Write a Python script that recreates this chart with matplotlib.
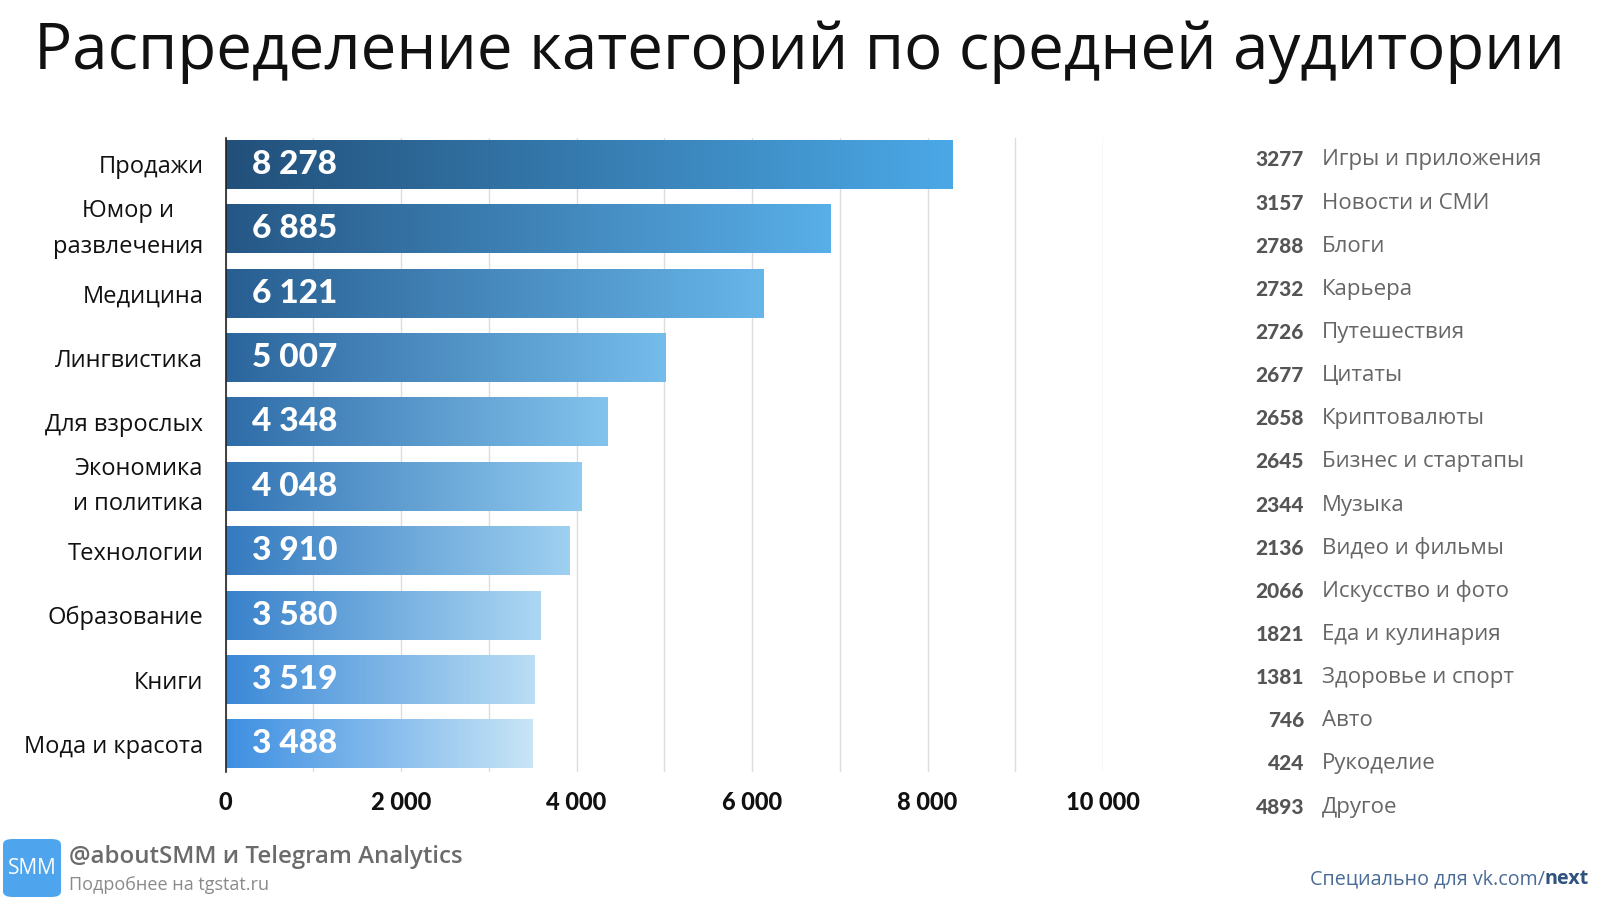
import matplotlib
matplotlib.use("Agg")
import matplotlib.pyplot as plt
import numpy as np
from matplotlib.patches import FancyBboxPatch
from matplotlib.colors import to_rgb

# ---- data ----
title = "Распределение категорий по средней аудитории"
categories = ["Продажи", "Юмор и\nразвлечения", "Медицина", "Лингвистика", "Для взрослых",
              "Экономика\nи политика", "Технологии", "Образование", "Книги", "Мода и красота"]
values = [8278, 6885, 6121, 5007, 4348, 4048, 3910, 3580, 3519, 3488]
xticks = [0, 2000, 4000, 6000, 8000, 10000]
xtick_labels = ["0", "2 000", "4 000", "6 000", "8 000", "10 000"]

other_values = [3277, 3157, 2788, 2732, 2726, 2677, 2658, 2645, 2344, 2136, 2066, 1821, 1381, 746, 424, 4893]
other_labels = ["Игры и приложения", "Новости и СМИ", "Блоги", "Карьера", "Путешествия", "Цитаты",
                "Криптовалюты", "Бизнес и стартапы", "Музыка", "Видео и фильмы", "Искусство и фото",
                "Еда и кулинария", "Здоровье и спорт", "Авто", "Рукоделие", "Другое"]

FONT = ["Open Sans", "DejaVu Sans"]
NUMFONT = ["Lato", "DejaVu Sans"]
plt.rcParams['font.family'] = FONT

W, H = 1600, 900
fig = plt.figure(figsize=(16, 9), dpi=100)
fig.patch.set_facecolor("white")

def fx(px):
    return px / W

def fy(py):
    return 1 - py / H

# axes placement
ax_left, ax_right, ax_top, ax_bot = 225.5, 1103, 138, 772
ax = fig.add_axes([fx(ax_left), fy(ax_bot), fx(ax_right - ax_left), (ax_bot - ax_top) / H])

n = len(values)
bar_h = 0.76
top_left, top_right = np.array(to_rgb("#22507a")), np.array(to_rgb("#4ba8e6"))
bot_left, bot_right = np.array(to_rgb("#3e8fe2")), np.array(to_rgb("#c8e5f6"))

for i, v in enumerate(values):
    t = i / (n - 1)
    lc = top_left * (1 - t) + bot_left * t
    rc = top_right * (1 - t) + bot_right * t
    s = np.linspace(0, 1, 256)[:, None]
    grad = (lc[None, :] * (1 - s) + rc[None, :] * s)[None, :, :]
    ax.imshow(grad, extent=(0, v, i + bar_h / 2, i - bar_h / 2), aspect="auto",
              interpolation="bilinear", zorder=2)
    ax.annotate(f"{v:,}".replace(",", " "), xy=(0, i), xytext=(19, 0),
                textcoords="offset points", va="center", ha="left",
                color="white", fontsize=24, fontweight="black",
                family=NUMFONT, zorder=3)

ax.set_xlim(0, 10000)
ax.set_ylim(n - 1 + 0.435, -0.41)
ax.set_xticks(xticks)
ax.set_xticklabels(xtick_labels, fontsize=17, fontweight="black", family=NUMFONT, color="#111111")
ax.set_xticks(np.arange(1000, 10001, 1000), minor=True)
ax.grid(True, axis="x", which="both", color="#dcdcdc", linewidth=1, zorder=0)
ax.set_axisbelow(True)
ax.set_yticks(range(n))
ax.set_yticklabels(categories, fontsize=17, color="#111111", linespacing=1.65)
for lbl in ax.get_yticklabels():
    lbl.set_multialignment("center")
    if "\n" in lbl.get_text():
        lbl.set_verticalalignment("center")
ax.tick_params(axis="both", which="both", length=0)
ax.tick_params(axis="x", pad=14)
ax.tick_params(axis="y", pad=16)
for sp in ["top", "right", "bottom"]:
    ax.spines[sp].set_visible(False)
ax.spines["left"].set_color("#222222")
ax.spines["left"].set_linewidth(1.2)

# title
fig.text(0.5, fy(52), title, ha="center", va="center", fontsize=45.8, color="#111111")

# right-side list
y0, y1 = 160, 807
ys = np.linspace(y0, y1, len(other_values))
for yv, val, lab in zip(ys, other_values, other_labels):
    fig.text(fx(1304), fy(yv), str(val), ha="right", va="center", fontsize=15,
             fontweight="black", color="#555555", family=NUMFONT)
    fig.text(fx(1322), fy(yv), lab, ha="left", va="center", fontsize=16, color="#666666")

# footer logo
box = FancyBboxPatch((fx(3), fy(897)), fx(58), (897 - 839) / H,
                     boxstyle="round,pad=0,rounding_size=0.006",
                     transform=fig.transFigure, facecolor="#4ea5ee", edgecolor="none")
fig.patches.append(box)
fig.text(fx(32), fy(868), "SMM", ha="center", va="center", fontsize=15, color="white")
fig.text(fx(69), fy(857), "@aboutSMM и Telegram Analytics", ha="left", va="center",
         fontsize=17.3, color="#6b6b6b", fontweight="semibold")
fig.text(fx(69), fy(885), "Подробнее на tgstat.ru", ha="left", va="center",
         fontsize=13, color="#8a8a8a")

# bottom-right note
t1 = fig.text(fx(1589), fy(879), "next", ha="right", va="center", fontsize=14.2,
              color="#2f527f", fontweight="bold")
fig.canvas.draw()
bb = t1.get_window_extent()
fig.text(bb.x0 / W, fy(879), "Специально для vk.com/", ha="right", va="center",
         fontsize=14.2, color="#4a6b96")

fig.savefig("out.png", dpi=100, facecolor="white")
